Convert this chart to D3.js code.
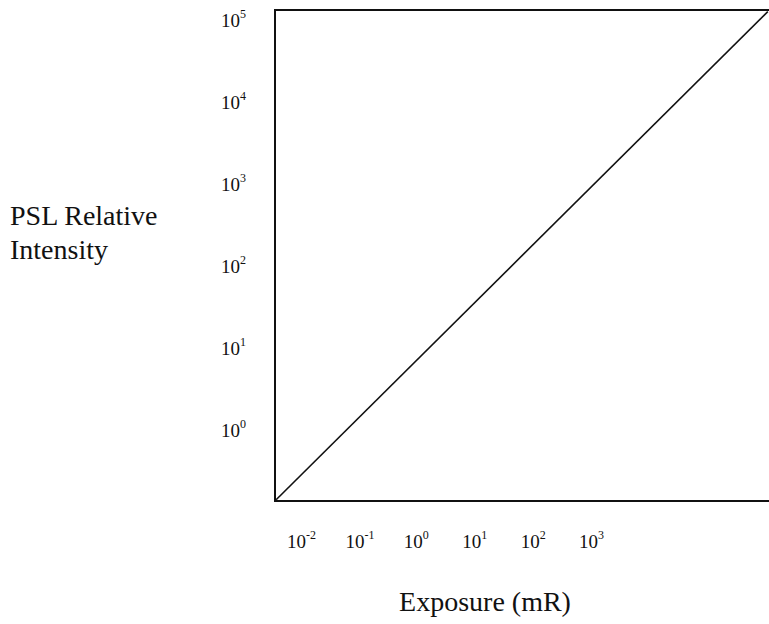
<!DOCTYPE html>
<html lang="en">
<head>
    <meta charset="UTF-8">
    <title>PSL vs Exposure</title>
    <style>
        body { margin: 0; background: #fff; }
        svg text { font-family: "Liberation Serif", "Times New Roman", serif; fill: #111; }
    </style>
</head>
<body>
<div id="chart"></div>
<script src="https://cdn.jsdelivr.net/npm/d3@7"></script>
<script>
    // 数据
    var xExp = [-2, -1, 0, 1, 2, 3];        // x 轴刻度指数
    var yExp = [0, 1, 2, 3, 4, 5];          // y 轴刻度指数
    var exposure = [0.0039, 1.02e6];        // mR
    var intensity = [0.141, 1.26e5];        // PSL relative intensity

    var W = 769, H = 624;
    var box = {left: 275, top: 10, right: 771, bottom: 501};

    var svg = d3.select("#chart").append("svg")
        .attr("width", W).attr("height", H);

    var x = d3.scaleLog().domain([0.00373, 1.07e6]).range([box.left, 769]);
    var y = d3.scaleLog().domain([0.136, 1.32e5]).range([box.bottom, box.top]);

    // 边框
    svg.append("rect")
        .attr("x", box.left).attr("y", box.top)
        .attr("width", box.right - box.left).attr("height", box.bottom - box.top)
        .attr("fill", "none").attr("stroke", "#111").attr("stroke-width", 2);

    // 直线
    var line = d3.line()
        .x(function (d) { return x(d[0]); })
        .y(function (d) { return y(d[1]); });
    svg.append("path")
        .datum(d3.zip(exposure, intensity))
        .attr("d", line)
        .attr("fill", "none").attr("stroke", "#111").attr("stroke-width", 1.6);

    // 10^n 标签
    function powLabel(sel) {
        sel.append("tspan").text("10");
        sel.append("tspan")
            .attr("font-size", 12)
            .attr("dy", -9)
            .text(function (d) { return d; });
    }

    svg.append("g").selectAll("text")
        .data(yExp).enter().append("text")
        .attr("x", 221)
        .attr("y", function (d) { return y(Math.pow(10, d)) + 7; })
        .attr("font-size", 19)
        .call(powLabel);

    svg.append("g").selectAll("text")
        .data(xExp).enter().append("text")
        .attr("x", function (d) { return x(Math.pow(10, d)) - 13; })
        .attr("y", 548)
        .attr("font-size", 19)
        .call(powLabel);

    // 轴标题
    svg.append("text")
        .attr("x", 485).attr("y", 611)
        .attr("text-anchor", "middle")
        .attr("font-size", 28)
        .text("Exposure (mR)");

    var yt = svg.append("text").attr("font-size", 28);
    yt.append("tspan").attr("x", 10).attr("y", 225).text("PSL Relative");
    yt.append("tspan").attr("x", 10).attr("y", 259).text("Intensity");
</script>
</body>
</html>
